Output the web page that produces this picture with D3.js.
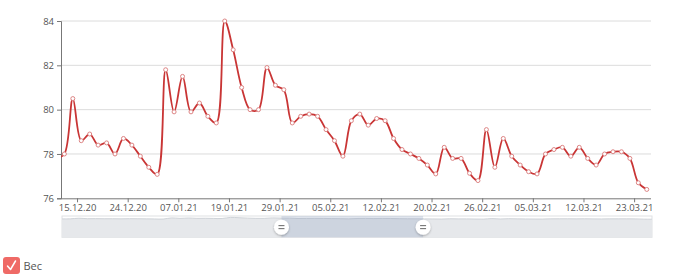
<!DOCTYPE html>
<html><head><meta charset="utf-8">
<script src="https://cdn.jsdelivr.net/npm/d3@7"></script>
<style>
html,body{margin:0;padding:0;background:#fff;}
svg{display:block;font-family:"Open Sans",sans-serif;}
</style></head>
<body><svg id="c" width="680" height="280"></svg>
<script>
// weight values, one per category point (first point lies just outside the visible window)
const weights = [77.8, 78.0, 80.5, 78.6, 78.9, 78.4, 78.5, 78.0, 78.7, 78.4,
  77.9, 77.4, 77.08, 81.8, 79.9, 81.5, 79.9, 80.3, 79.7, 79.4,
  84.0, 82.7, 81.0, 80.0, 80.0, 81.9, 81.1, 80.9, 79.4, 79.7,
  79.8, 79.7, 79.1, 78.6, 77.9, 79.5, 79.8, 79.3, 79.6, 79.5,
  78.7, 78.2, 78.0, 77.8, 77.5, 77.1, 78.3, 77.8, 77.8, 77.13,
  76.8, 79.1, 77.4, 78.7, 77.9, 77.5, 77.2, 77.1, 78.0, 78.2,
  78.3, 77.9, 78.3, 77.8, 77.5, 78.0, 78.1, 78.1, 77.8, 76.7, 76.4];
const tickLabels = ["15.12.20","24.12.20","07.01.21","19.01.21","29.01.21","05.02.21",
  "12.02.21","20.02.21","26.02.21","05.03.21","12.03.21","23.03.21"];
const yTicks = [76, 78, 80, 82, 84];
const seriesName = "Вес";
const labelEvery = 6;
const zoomRange = [0.372, 0.612];

const svg = d3.select("#c");
const L = 61, R = 651, T = 21, B = 198.3;
const x = d3.scaleLinear().domain([0.6, weights.length - 0.5]).range([L, R]);
const y = d3.scaleLinear().domain([76, 84]).range([B, T]);

// grid
svg.append("g").selectAll("line").data(yTicks.filter(v => v !== 76)).join("line")
  .attr("x1", L).attr("x2", R).attr("y1", d => y(d)).attr("y2", d => y(d))
  .attr("stroke", "#dcdcdc").attr("stroke-width", 1);

// y axis
const ya = svg.append("g").attr("transform", `translate(${L},0)`)
  .call(d3.axisLeft(y).tickValues(yTicks).tickSize(4).tickPadding(3).tickFormat(d3.format("d")));
ya.select(".domain").attr("stroke", "#777");
ya.selectAll(".tick line").attr("stroke", "#777");
ya.selectAll("text").attr("fill", "#555").style("font-size", "9.5px").style("font-family", "'Open Sans',sans-serif");

// x axis
const tickPos = tickLabels.map((d, k) => 2.5 + labelEvery * k);
const xa = svg.append("g").attr("transform", `translate(0,${B})`)
  .call(d3.axisBottom(x).tickValues(tickPos).tickSize(4).tickPadding(2)
    .tickFormat((d, i) => tickLabels[i]));
xa.select(".domain").attr("stroke", "#777").attr("d", `M${L},0.5H${R}`);
xa.selectAll(".tick line").attr("stroke", "#777");
xa.selectAll("text").attr("fill", "#555").style("font-size", "9.5px").style("font-family", "'Open Sans',sans-serif");

// clip
svg.append("clipPath").attr("id", "clip").append("rect")
  .attr("x", L).attr("y", 0).attr("width", R - L).attr("height", 280);

const line = d3.line().x((d, i) => x(i)).y(d => y(d)).curve(d3.curveCatmullRom.alpha(0.5));
const g = svg.append("g").attr("clip-path", "url(#clip)");
g.append("path").datum(weights).attr("d", line)
  .attr("fill", "none").attr("stroke", "#c93535").attr("stroke-width", 1.8);
g.selectAll("circle").data(weights).join("circle")
  .attr("cx", (d, i) => x(i)).attr("cy", d => y(d)).attr("r", 2)
  .attr("fill", "#fff").attr("stroke", "#dd8585").attr("stroke-width", 1);

// navigator
const NL = 62, NR = 652, NT = 216, NB = 237.3;
const nx = d3.scaleLinear().domain([0, weights.length - 1]).range([NL, NR]);
const ny = d3.scaleLinear().domain([0, 90]).range([NB, NT]);
const nav = svg.append("g");
nav.append("rect").attr("x", NL).attr("y", NT).attr("width", NR - NL).attr("height", NB - NT)
  .attr("fill", "#fff").attr("stroke", "#dfe1e4");
nav.append("path").datum(weights)
  .attr("d", d3.area().x((d, i) => nx(i)).y0(NB).y1(d => ny(d)).curve(d3.curveCatmullRom))
  .attr("fill", "#e6e8eb");
nav.append("path").datum(weights)
  .attr("d", d3.line().x((d, i) => nx(i)).y(d => ny(d)).curve(d3.curveCatmullRom))
  .attr("fill", "none").attr("stroke", "#cfd3d8").attr("stroke-width", 1);
const h0 = NL + zoomRange[0] * (NR - NL), h1 = NL + zoomRange[1] * (NR - NL);
nav.append("rect").attr("x", h0).attr("y", NT).attr("width", h1 - h0).attr("height", NB - NT)
  .attr("fill", "#8299bd").attr("opacity", 0.25);

const defs = svg.append("defs");
const f = defs.append("filter").attr("id", "sh").attr("x", "-50%").attr("y", "-50%").attr("width", "200%").attr("height", "200%");
f.append("feDropShadow").attr("dx", 0).attr("dy", 1).attr("stdDeviation", 1).attr("flood-color", "#000").attr("flood-opacity", 0.3);
const hc = (NT + NB) / 2 + 0.5;
[h0, h1].forEach(hx => {
  const hg = nav.append("g").attr("transform", `translate(${hx},${hc})`);
  hg.append("circle").attr("r", 7.5).attr("fill", "#fff").attr("filter", "url(#sh)");
  hg.append("line").attr("x1", -3).attr("x2", 3).attr("y1", -1.5).attr("y2", -1.5).attr("stroke", "#666").attr("stroke-width", 1);
  hg.append("line").attr("x1", -3).attr("x2", 3).attr("y1", 1.5).attr("y2", 1.5).attr("stroke", "#666").attr("stroke-width", 1);
});

// legend
const lg = svg.append("g").attr("transform", "translate(3,257)");
lg.append("rect").attr("width", 17).attr("height", 17).attr("rx", 3).attr("fill", "#ef6a66");
lg.append("path").attr("d", "M4.5,9 L7.5,12.5 L12.5,4").attr("fill", "none")
  .attr("stroke", "#fff").attr("stroke-width", 1.5).attr("stroke-linecap", "round").attr("stroke-linejoin", "round");
lg.append("text").attr("x", 20.5).attr("y", 13).text(seriesName)
  .attr("fill", "#555").style("font-size", "11px");
</script></body></html>
